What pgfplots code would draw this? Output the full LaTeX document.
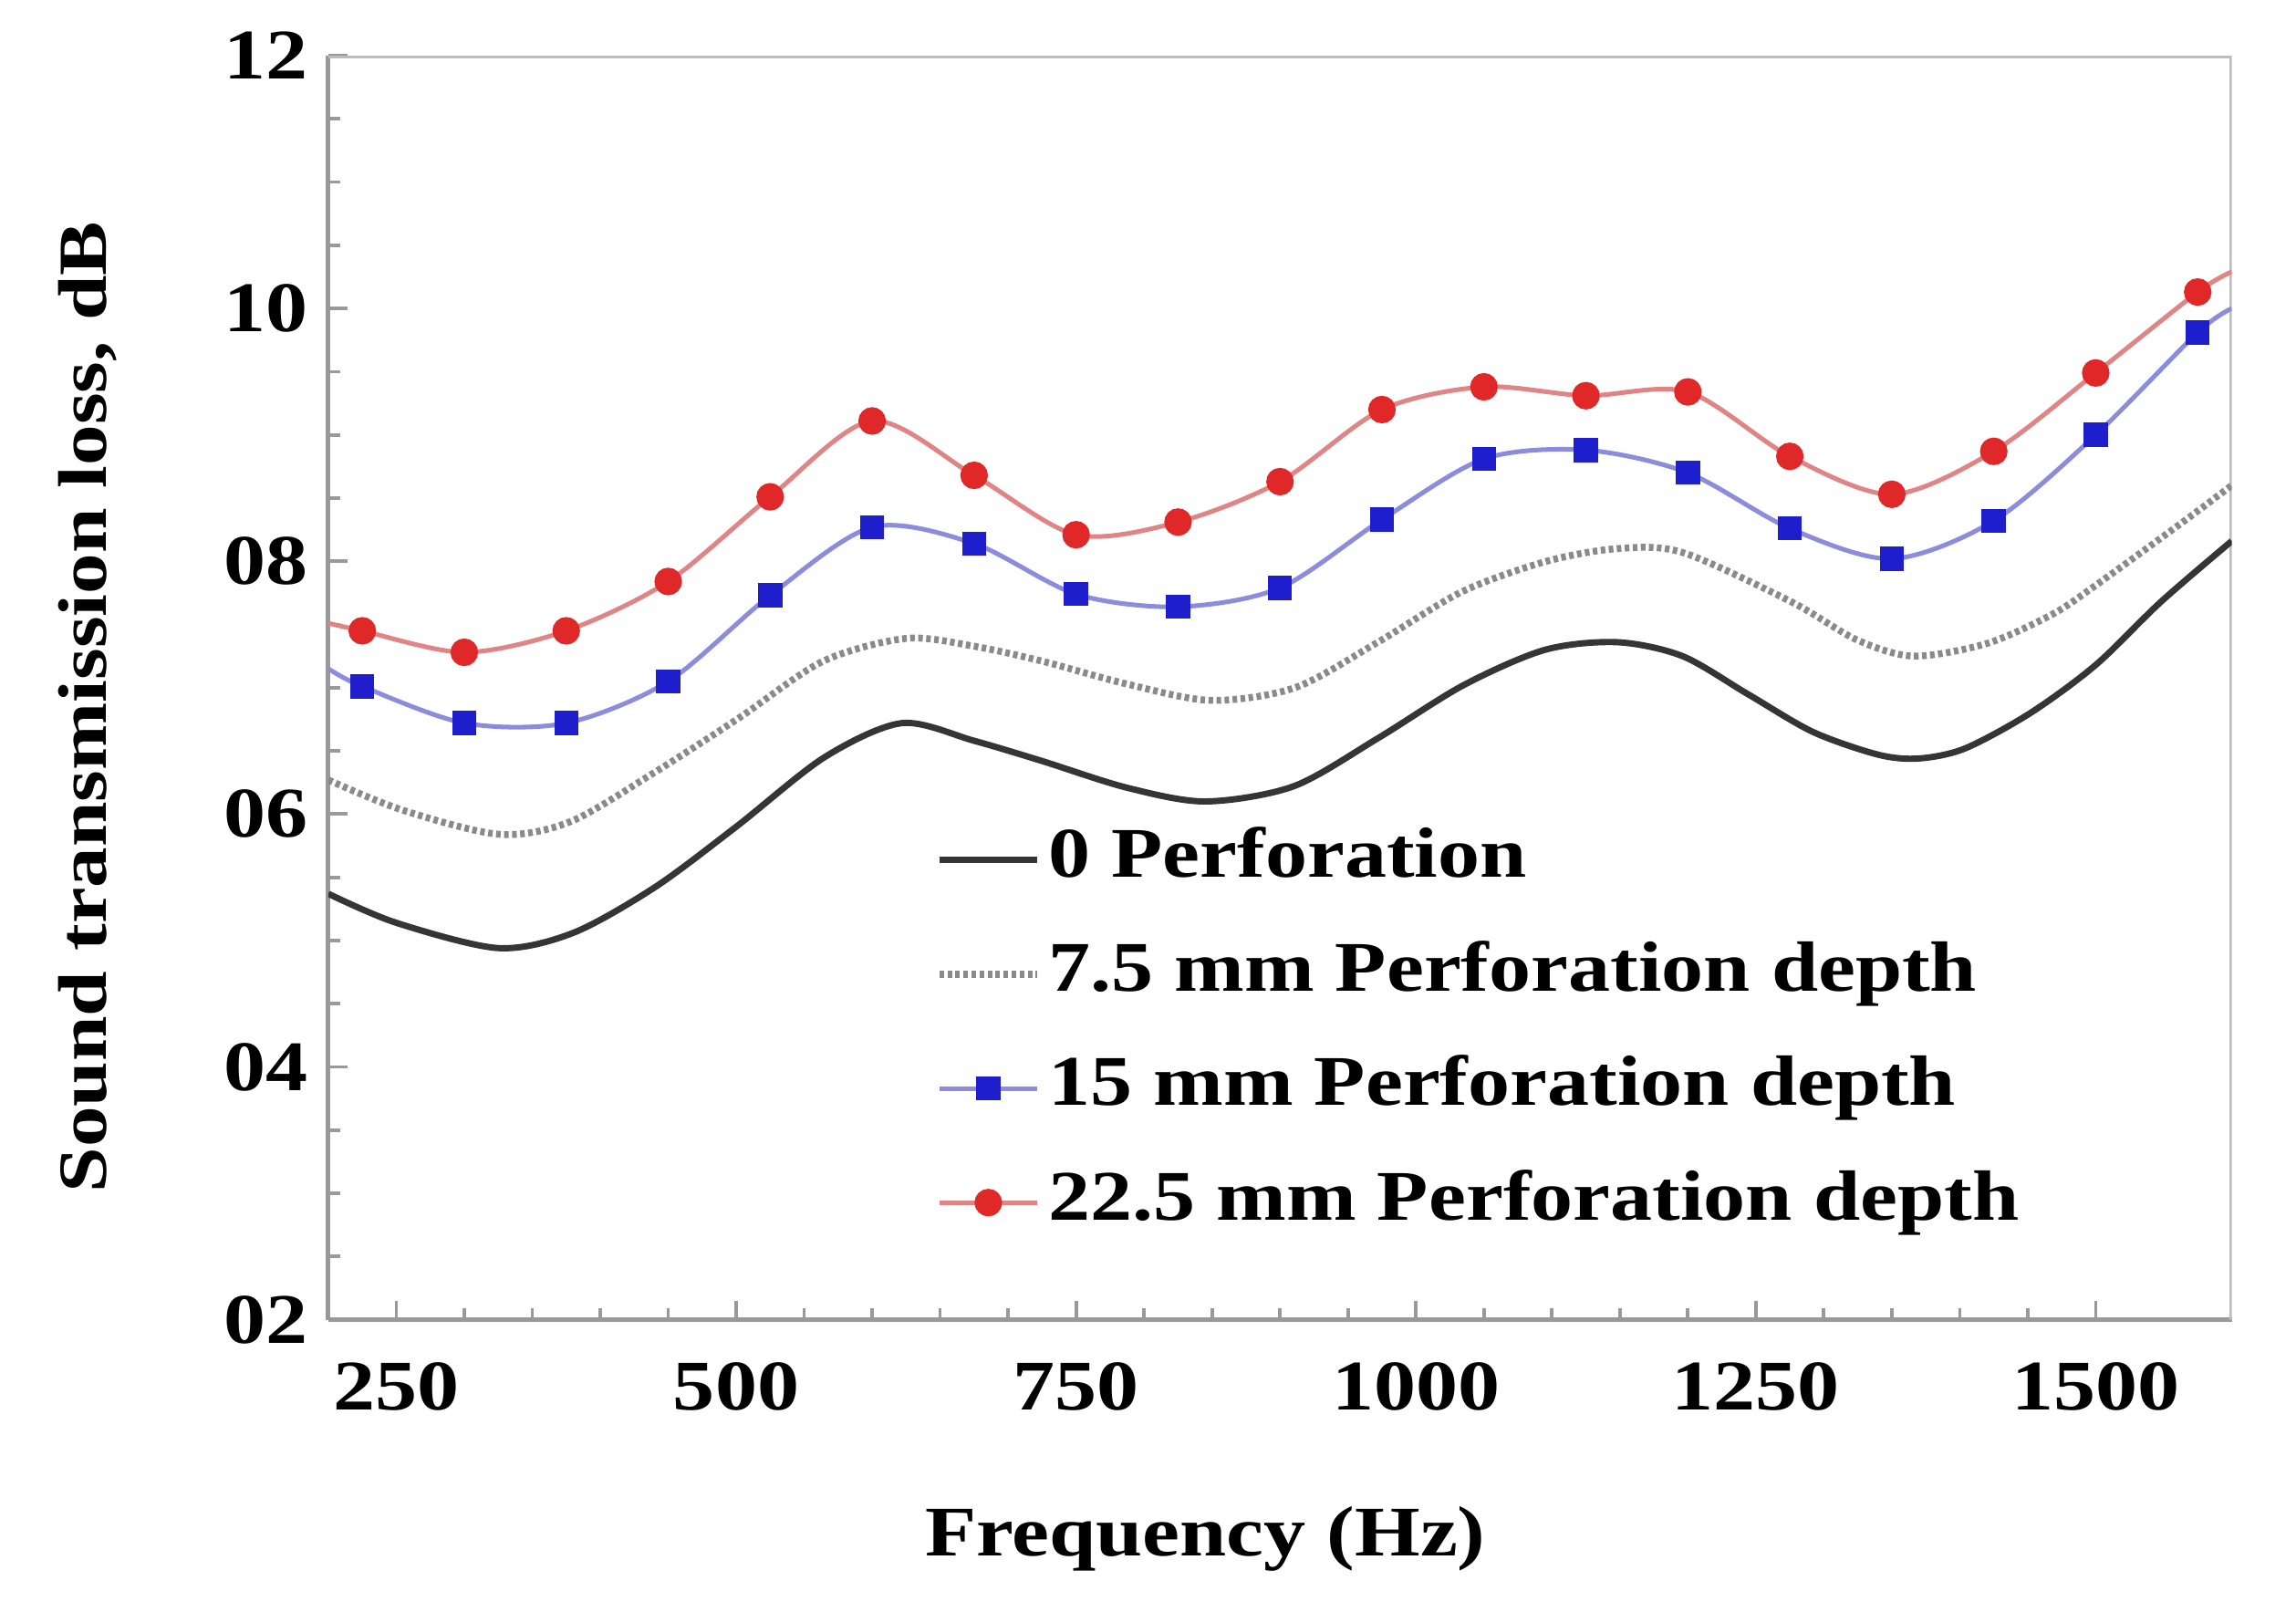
\documentclass[border=0pt]{standalone}
\usepackage{fontspec}
\setmainfont{Liberation Serif}[FakeStretch=1.18]
\usepackage{pgfplots}
\pgfplotsset{compat=1.18}
\definecolor{redline}{HTML}{E08585}
\definecolor{redmark}{HTML}{E02828}
\definecolor{blueline}{HTML}{8C8CDC}
\definecolor{bluemark}{HTML}{1E1ECC}
\definecolor{blackline}{HTML}{353535}
\definecolor{dotline}{HTML}{8A8A8A}
\definecolor{axisgray}{HTML}{999999}
\definecolor{boxgray}{HTML}{BDBDBD}
\newcommand\lf{\fontsize{12.4}{14}\selectfont\bfseries}
\newcommand\ylf{\fontsize{12.0}{14}\selectfont\bfseries}
\begin{document}
\begin{tikzpicture}
\useasboundingbox (-57.2pt,-50.9pt) rectangle (342.8pt,229.9pt);
\begin{axis}[
 scale only axis, width=331.6pt, height=220.2pt,
 xmin=200, xmax=1600, ymin=2, ymax=12,
 axis lines*=left,
 xtick={250,500,750,1000,1250,1500},
 xticklabels={250,500,750,1000,1250,1500},
 ytick={2,4,6,8,10,12},
 yticklabels={02,04,06,08,10,12},
 minor x tick num=4, minor y tick num=3,
 tick align=inside, xtick pos=bottom, ytick pos=left,
 major tick length=3.3pt, minor tick length=2pt,
 tick style={axisgray, line width=0.6pt},
 axis line style={axisgray, line width=0.8pt},
 tick label style={font=\lf, text=black},
 xticklabel style={yshift=-4pt},
 ylabel={Sound transmission loss, dB},
 xlabel={Frequency (Hz)},
 xlabel style={font=\lf, at={(axis description cs:0.4608,-0.1735)}, anchor=center},
 ylabel style={font=\ylf, at={(axis description cs:-0.1264,0.4846)}, anchor=center},
 legend style={at={(axis description cs:0.3186,0.401)}, anchor=north west, draw=none, fill=none, font=\lf, inner sep=0pt, row sep=3.9pt, nodes={inner xsep=1.35pt, inner ysep=2pt, text height=9pt, text depth=3pt}},
 legend cell align=left,
 legend image code/.code={\draw[#1, mark indices={2}] plot coordinates {(0cm,0cm) (0.3cm,0cm) (0.6cm,0cm)};},
]
\draw[boxgray, line width=0.8pt] (rel axis cs:0,1) -- (rel axis cs:1,1) -- (rel axis cs:1,0);
\addplot[blackline, line width=1.1pt, smooth, no markers] coordinates {
(200,5.37) (250,5.14) (325,4.94) (380,5.06) (440,5.42) (500,5.90) (565,6.45)
(622,6.72) (675,6.58) (725,6.42) (787,6.21) (845,6.10) (910,6.22) (972,6.60)
(1035,7.02) (1095,7.30) (1148,7.36) (1196,7.25) (1244,6.95) (1292,6.65)
(1340,6.47) (1370,6.44) (1404,6.52) (1452,6.80) (1500,7.18) (1548,7.68) (1600,8.16)};
\addlegendentry{0 Perforation}
\addplot[dotline, line width=1.2pt, dash pattern=on 0.8pt off 0.6pt, smooth, no markers] coordinates {
(200,6.27) (255,6.03) (326,5.84) (378,5.94) (440,6.33) (502,6.76) (564,7.21)
(625,7.39) (674,7.33) (725,7.21) (787,7.03) (849,6.90) (911,7.00) (972,7.36)
(1034,7.76) (1096,8.00) (1148,8.10) (1196,8.07) (1276,7.68) (1324,7.38)
(1366,7.25) (1420,7.35) (1468,7.58) (1500,7.81) (1564,8.31) (1600,8.60)};
\addlegendentry{7.5 mm Perforation depth}
\addplot[blueline, line width=0.8pt, smooth, mark=square*, mark size=1.7pt,
 mark options={fill=bluemark, draw=bluemark, solid},
 mark indices={2,3,4,5,6,7,8,9,10,11,12,13,14,15,16,17,18,19,20}] coordinates {
(200,7.15) (225,7.01) (300,6.72) (375,6.72) (450,7.05) (525,7.73) (600,8.27)
(675,8.14) (750,7.74) (825,7.64) (900,7.79) (975,8.33) (1050,8.81) (1125,8.88)
(1200,8.70) (1275,8.26) (1350,8.02) (1425,8.32) (1500,9.00) (1575,9.81) (1600,10.00)};
\addlegendentry{15 mm Perforation depth}
\addplot[redline, line width=0.8pt, smooth, mark=*, mark size=2pt,
 mark options={fill=redmark, draw=redmark, solid},
 mark indices={2,3,4,5,6,7,8,9,10,11,12,13,14,15,16,17,18,19,20}] coordinates {
(200,7.51) (225,7.45) (300,7.28) (375,7.45) (450,7.84) (525,8.51) (600,9.11)
(675,8.68) (750,8.21) (825,8.31) (900,8.63) (975,9.20) (1050,9.38) (1125,9.31)
(1200,9.34) (1275,8.83) (1350,8.53) (1425,8.87) (1500,9.49) (1575,10.13) (1600,10.29)};
\addlegendentry{22.5 mm Perforation depth}
\end{axis}
\end{tikzpicture}
\end{document}
